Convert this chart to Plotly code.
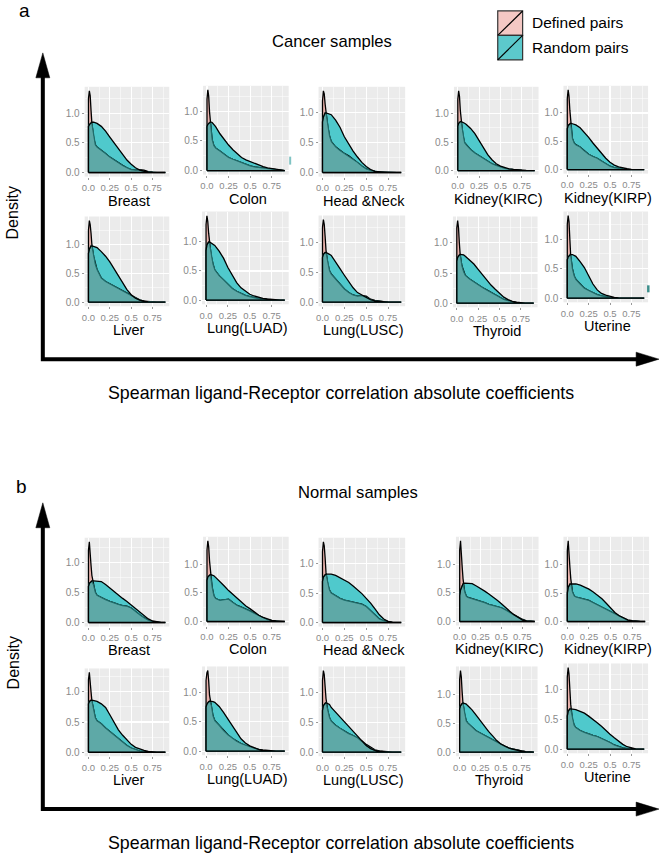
import plotly.graph_objects as go

W, H = 660, 855

# ---------------- data ----------------
x_grid = [0, 0.01, 0.02, 0.03, 0.04, 0.06, 0.08, 0.1, 0.15, 0.2, 0.25, 0.3,
          0.35, 0.4, 0.45, 0.5, 0.55, 0.6, 0.65, 0.7, 0.75, 0.8, 0.85, 0.9]

categories = ["Breast", "Colon", "Head &Neck", "Kidney(KIRC)", "Kidney(KIRP)",
              "Liver", "Lung(LUAD)", "Lung(LUSC)", "Thyroid", "Uterine"]
series_names = ["Defined pairs", "Random pairs"]
group_titles = ["Cancer samples", "Normal samples"]
panel_letters = ["a", "b"]
x_tick_vals = [0, 0.25, 0.5, 0.75]
x_tick_text = ["0.0", "0.25", "0.5", "0.75"]
y_tick_vals = [0, 0.5, 1.0]
y_tick_text = ["0.0", "0.5", "1.0"]
axis_x_title = "Spearman ligand-Receptor correlation absolute coefficients"
axis_y_title = "Density"

cancer_defined = [
    [1.25, 1.38, 1.3, 1.05, 0.83, 0.6, 0.47, 0.43, 0.38, 0.32, 0.26, 0.21, 0.16, 0.12, 0.08, 0.05, 0.04, 0.05, 0.04, 0.015, 0.005, 0, 0, 0],
    [1.2, 1.36, 1.25, 0.98, 0.8, 0.52, 0.42, 0.38, 0.33, 0.27, 0.22, 0.19, 0.16, 0.13, 0.1, 0.08, 0.06, 0.05, 0.04, 0.03, 0.02, 0.01, 0.005, 0],
    [1.2, 1.37, 1.32, 1.15, 1.0, 0.78, 0.62, 0.52, 0.43, 0.37, 0.32, 0.28, 0.22, 0.17, 0.11, 0.06, 0.035, 0.02, 0.01, 0.005, 0, 0, 0, 0],
    [1.25, 1.4, 1.3, 1.05, 0.85, 0.62, 0.49, 0.45, 0.37, 0.31, 0.26, 0.21, 0.16, 0.12, 0.09, 0.06, 0.04, 0.025, 0.015, 0.008, 0.004, 0, 0, 0],
    [1.25, 1.41, 1.3, 1.05, 0.82, 0.55, 0.47, 0.44, 0.4, 0.33, 0.27, 0.23, 0.2, 0.15, 0.1, 0.06, 0.035, 0.02, 0.01, 0.005, 0, 0, 0, 0],
    [1.25, 1.42, 1.35, 1.2, 1.0, 0.8, 0.66, 0.57, 0.42, 0.36, 0.32, 0.28, 0.24, 0.19, 0.15, 0.11, 0.07, 0.04, 0.02, 0.01, 0.005, 0, 0, 0],
    [1.3, 1.45, 1.35, 1.15, 0.97, 0.75, 0.62, 0.52, 0.42, 0.35, 0.27, 0.2, 0.15, 0.11, 0.08, 0.06, 0.04, 0.025, 0.015, 0.008, 0.004, 0, 0, 0],
    [1.25, 1.38, 1.3, 1.1, 0.87, 0.65, 0.53, 0.47, 0.38, 0.3, 0.22, 0.16, 0.12, 0.1, 0.11, 0.1, 0.05, 0.03, 0.015, 0.008, 0.004, 0, 0, 0],
    [1.25, 1.37, 1.25, 1.0, 0.8, 0.62, 0.52, 0.46, 0.4, 0.35, 0.3, 0.26, 0.22, 0.18, 0.13, 0.09, 0.06, 0.04, 0.02, 0.01, 0.005, 0, 0, 0],
    [1.25, 1.4, 1.3, 1.0, 0.72, 0.5, 0.38, 0.32, 0.24, 0.17, 0.13, 0.09, 0.06, 0.04, 0.02, 0.01, 0.005, 0, 0, 0, 0, 0, 0, 0],
]
cancer_random = [
    [0.78, 0.81, 0.83, 0.84, 0.85, 0.85, 0.84, 0.83, 0.78, 0.7, 0.6, 0.5, 0.4, 0.3, 0.21, 0.14, 0.08, 0.04, 0.02, 0.01, 0.005, 0, 0, 0],
    [0.74, 0.78, 0.8, 0.81, 0.82, 0.81, 0.78, 0.74, 0.62, 0.52, 0.43, 0.35, 0.28, 0.22, 0.18, 0.15, 0.12, 0.09, 0.065, 0.045, 0.03, 0.02, 0.01, 0],
    [0.85, 0.93, 0.97, 1.0, 1.0, 0.99, 0.98, 0.97, 0.88, 0.76, 0.6, 0.47, 0.36, 0.26, 0.17, 0.1, 0.05, 0.02, 0.01, 0.005, 0.002, 0, 0, 0],
    [0.78, 0.83, 0.85, 0.86, 0.86, 0.85, 0.83, 0.81, 0.74, 0.65, 0.53, 0.4, 0.28, 0.19, 0.12, 0.08, 0.05, 0.03, 0.02, 0.01, 0.005, 0.002, 0, 0],
    [0.72, 0.78, 0.8, 0.82, 0.82, 0.81, 0.8, 0.79, 0.74, 0.66, 0.57, 0.47, 0.38, 0.28, 0.2, 0.13, 0.08, 0.05, 0.03, 0.015, 0.005, 0, 0, 0],
    [0.85, 0.92, 0.96, 0.98, 0.98, 0.97, 0.96, 0.95, 0.88, 0.8, 0.7, 0.58, 0.45, 0.33, 0.22, 0.13, 0.07, 0.035, 0.015, 0.007, 0.003, 0, 0, 0],
    [0.85, 0.95, 0.99, 1.0, 1.0, 0.98, 0.96, 0.94, 0.84, 0.72, 0.56, 0.42, 0.3, 0.21, 0.15, 0.1, 0.07, 0.045, 0.03, 0.02, 0.01, 0.005, 0, 0],
    [0.75, 0.8, 0.82, 0.83, 0.83, 0.82, 0.8, 0.78, 0.68, 0.56, 0.45, 0.34, 0.24, 0.16, 0.12, 0.08, 0.04, 0.02, 0.01, 0.005, 0.002, 0, 0, 0],
    [0.7, 0.76, 0.79, 0.8, 0.81, 0.81, 0.8, 0.78, 0.72, 0.65, 0.56, 0.47, 0.38, 0.3, 0.23, 0.16, 0.1, 0.06, 0.03, 0.015, 0.005, 0, 0, 0],
    [0.65, 0.7, 0.72, 0.74, 0.74, 0.74, 0.73, 0.71, 0.62, 0.52, 0.38, 0.24, 0.14, 0.08, 0.05, 0.03, 0.015, 0.005, 0, 0, 0, 0, 0, 0],
]
normal_defined = [
    [1.2, 1.34, 1.2, 0.95, 0.78, 0.62, 0.5, 0.45, 0.41, 0.38, 0.35, 0.32, 0.3, 0.28, 0.27, 0.24, 0.18, 0.13, 0.08, 0.04, 0.015, 0.005, 0, 0],
    [1.25, 1.41, 1.3, 1.05, 0.85, 0.6, 0.45, 0.4, 0.37, 0.38, 0.39, 0.33, 0.28, 0.25, 0.22, 0.18, 0.14, 0.1, 0.06, 0.03, 0.015, 0.005, 0, 0],
    [1.2, 1.37, 1.3, 1.1, 0.85, 0.65, 0.55, 0.5, 0.45, 0.41, 0.38, 0.36, 0.34, 0.33, 0.31, 0.27, 0.2, 0.13, 0.06, 0.03, 0.01, 0, 0, 0],
    [1.25, 1.41, 1.25, 0.95, 0.75, 0.52, 0.44, 0.42, 0.4, 0.38, 0.36, 0.33, 0.3, 0.28, 0.26, 0.24, 0.2, 0.16, 0.12, 0.07, 0.04, 0.01, 0, 0],
    [1.25, 1.42, 1.25, 0.95, 0.75, 0.52, 0.45, 0.43, 0.41, 0.39, 0.37, 0.33, 0.29, 0.25, 0.22, 0.18, 0.13, 0.09, 0.05, 0.02, 0.01, 0, 0, 0],
    [1.2, 1.32, 1.2, 1.0, 0.85, 0.7, 0.57, 0.52, 0.47, 0.4, 0.34, 0.28, 0.22, 0.16, 0.11, 0.07, 0.04, 0.02, 0.01, 0, 0, 0, 0, 0],
    [1.2, 1.33, 1.37, 1.2, 0.95, 0.78, 0.6, 0.52, 0.44, 0.35, 0.28, 0.22, 0.17, 0.13, 0.1, 0.07, 0.05, 0.03, 0.01, 0.005, 0, 0, 0, 0],
    [1.2, 1.37, 1.3, 1.1, 0.9, 0.7, 0.58, 0.52, 0.45, 0.4, 0.35, 0.31, 0.28, 0.24, 0.19, 0.13, 0.08, 0.04, 0.02, 0.01, 0, 0, 0, 0],
    [1.25, 1.41, 1.3, 1.05, 0.85, 0.66, 0.54, 0.5, 0.43, 0.37, 0.33, 0.29, 0.25, 0.21, 0.17, 0.13, 0.1, 0.07, 0.05, 0.03, 0.02, 0.01, 0, 0],
    [1.2, 1.36, 1.25, 1.0, 0.75, 0.5, 0.4, 0.36, 0.31, 0.28, 0.25, 0.23, 0.21, 0.18, 0.14, 0.11, 0.07, 0.04, 0.02, 0.01, 0, 0, 0, 0],
]
normal_random = [
    [0.6, 0.65, 0.67, 0.68, 0.69, 0.69, 0.69, 0.69, 0.68, 0.63, 0.57, 0.52, 0.46, 0.4, 0.35, 0.29, 0.23, 0.17, 0.11, 0.06, 0.025, 0.01, 0, 0],
    [0.72, 0.78, 0.8, 0.81, 0.82, 0.81, 0.8, 0.77, 0.7, 0.62, 0.54, 0.47, 0.4, 0.33, 0.27, 0.22, 0.16, 0.11, 0.07, 0.04, 0.02, 0.01, 0, 0],
    [0.7, 0.77, 0.8, 0.81, 0.82, 0.82, 0.82, 0.82, 0.8, 0.76, 0.72, 0.68, 0.62, 0.56, 0.49, 0.41, 0.33, 0.23, 0.13, 0.06, 0.02, 0.005, 0, 0],
    [0.45, 0.55, 0.6, 0.64, 0.66, 0.67, 0.67, 0.67, 0.66, 0.62, 0.58, 0.53, 0.48, 0.43, 0.37, 0.31, 0.24, 0.18, 0.12, 0.07, 0.03, 0.01, 0, 0],
    [0.5, 0.6, 0.64, 0.66, 0.66, 0.66, 0.66, 0.66, 0.64, 0.61, 0.57, 0.52, 0.46, 0.4, 0.32, 0.24, 0.16, 0.1, 0.06, 0.03, 0.015, 0.005, 0, 0],
    [0.8, 0.84, 0.86, 0.86, 0.86, 0.85, 0.85, 0.84, 0.8, 0.74, 0.62, 0.5, 0.37, 0.28, 0.2, 0.13, 0.08, 0.05, 0.03, 0.015, 0.005, 0, 0, 0],
    [0.75, 0.8, 0.83, 0.84, 0.85, 0.85, 0.84, 0.83, 0.76, 0.66, 0.55, 0.43, 0.31, 0.21, 0.14, 0.09, 0.06, 0.03, 0.02, 0.01, 0, 0, 0, 0],
    [0.7, 0.78, 0.81, 0.82, 0.83, 0.82, 0.8, 0.75, 0.67, 0.58, 0.5, 0.42, 0.34, 0.27, 0.18, 0.11, 0.06, 0.03, 0.015, 0.005, 0, 0, 0, 0],
    [0.75, 0.8, 0.83, 0.84, 0.85, 0.84, 0.83, 0.8, 0.73, 0.64, 0.54, 0.45, 0.36, 0.28, 0.2, 0.14, 0.1, 0.07, 0.05, 0.03, 0.02, 0.01, 0, 0],
    [0.55, 0.63, 0.66, 0.67, 0.67, 0.67, 0.66, 0.66, 0.63, 0.6, 0.55, 0.5, 0.44, 0.38, 0.31, 0.25, 0.19, 0.13, 0.08, 0.04, 0.02, 0.005, 0, 0],
]

# ---------------- layout (pixel boxes of each small panel) ----------------
boxes = [
    [(82, 167, 87, 177), (201, 287, 86, 175), (317, 404, 87, 177), (453, 538, 87, 175), (563, 648, 86, 174),
     (82, 167, 217, 307), (200, 287, 212, 305), (317, 404, 216, 307), (452, 537, 217, 308), (563, 648, 212, 303)],
    [(82, 167, 539, 628), (201, 287, 538, 627), (317, 404, 539, 628), (455, 538, 538, 627), (563, 649, 538, 627),
     (82, 167, 670, 758), (200, 287, 668, 757), (317, 404, 668, 758), (455, 537, 668, 758), (563, 648, 665, 755)],
]
GROUP_DY = 451  # vertical offset of panel b decorations

FONT = "Liberation Sans, Arial, sans-serif"
PINK = "#E9B3AD"
TEAL = "#4FC9CC"
OVERLAP = "#5EA9A7"
DARK_TEAL = "#1F6E6C"
TICK_GRAY = "#8a8a8a"


def px(x):
    return x / W


def py(y):
    return 1 - y / H


fig = go.Figure()
layout = {}


def closed(vals):
    xs = [x_grid[0]] + list(x_grid) + [x_grid[-1], x_grid[0]]
    ys = [0] + list(vals) + [0, 0]
    return xs, ys


groups = [(cancer_defined, cancer_random), (normal_defined, normal_random)]
annotations = []
idx = 0
for g, (defs, rnds) in enumerate(groups):
    for k in range(10):
        idx += 1
        sfx = "" if idx == 1 else str(idx)
        xr, yr = "x" + sfx, "y" + sfx
        d = defs[k]
        r = rnds[k]
        ov = [min(a, b) for a, b in zip(d, r)]
        xs, ys_r = closed(r)
        _, ys_d = closed(d)
        _, ys_o = closed(ov)
        fig.add_trace(go.Scatter(x=xs, y=ys_r, xaxis=xr, yaxis=yr, mode="lines", fill="toself",
                                 fillcolor=TEAL, line=dict(width=0, color=TEAL), hoverinfo="skip",
                                 name=series_names[1], showlegend=False))
        fig.add_trace(go.Scatter(x=xs, y=ys_d, xaxis=xr, yaxis=yr, mode="lines", fill="toself",
                                 fillcolor=PINK, line=dict(width=1.3, color="black"), hoverinfo="skip",
                                 name=series_names[0], showlegend=False))
        fig.add_trace(go.Scatter(x=xs, y=ys_o, xaxis=xr, yaxis=yr, mode="lines", fill="toself",
                                 fillcolor=OVERLAP, line=dict(width=1.2, color=DARK_TEAL), hoverinfo="skip",
                                 showlegend=False))
        fig.add_trace(go.Scatter(x=xs, y=ys_r, xaxis=xr, yaxis=yr, mode="lines",
                                 line=dict(width=1.3, color="black"), hoverinfo="skip",
                                 showlegend=False))

        x0, x1, y0, y1 = boxes[g][k]
        M = max(max(d), max(r))
        xmax = x_grid[-1]
        layout["xaxis" + sfx] = dict(
            domain=[px(x0), px(x1)], anchor=yr, range=[-0.05 * xmax, 1.05 * xmax],
            tickmode="array", tickvals=x_tick_vals, ticktext=x_tick_text,
            ticks="outside", ticklen=2, tickwidth=1, tickcolor="#999999",
            tickfont=dict(size=9.5, color=TICK_GRAY, family=FONT),
            showgrid=True, gridcolor="white", gridwidth=1.1,
            minor=dict(tickvals=[0.125, 0.375, 0.625, 0.875], showgrid=True,
                       gridcolor="white", gridwidth=0.5, ticks=""),
            zeroline=False, showline=False, fixedrange=True)
        layout["yaxis" + sfx] = dict(
            domain=[py(y1), py(y0)], anchor=xr, range=[-0.05 * M, 1.05 * M],
            tickmode="array", tickvals=y_tick_vals, ticktext=y_tick_text,
            ticks="outside", ticklen=2, tickwidth=1, tickcolor="#999999",
            tickfont=dict(size=10, color=TICK_GRAY, family=FONT),
            showgrid=True, gridcolor="white", gridwidth=1.1,
            minor=dict(tickvals=[0.25, 0.75, 1.25], showgrid=True,
                       gridcolor="white", gridwidth=0.5, ticks=""),
            zeroline=False, showline=False, fixedrange=True)
        annotations.append(dict(x=px((x0 + x1) / 2 + 2), y=py(y1 + 24), xref="paper", yref="paper",
                                text=categories[k], showarrow=False, xanchor="center", yanchor="middle",
                                font=dict(size=14.5, color="black", family=FONT)))

shapes = []
for g in range(2):
    dy = g * GROUP_DY
    # axes lines (L shape)
    shapes.append(dict(type="path", xref="paper", yref="paper",
                       path=f"M {px(40)},{py(76 + dy)} L {px(40)},{py(360 + dy)} L {px(638)},{py(360 + dy)}",
                       line=dict(color="black", width=4)))
    # arrow heads
    shapes.append(dict(type="path", xref="paper", yref="paper",
                       path=f"M {px(33)},{py(78 + dy)} L {px(47)},{py(78 + dy)} L {px(40)},{py(53 + dy)} Z",
                       fillcolor="black", line=dict(color="black", width=0.5)))
    shapes.append(dict(type="path", xref="paper", yref="paper",
                       path=f"M {px(636)},{py(353 + dy)} L {px(636)},{py(367 + dy)} L {px(659)},{py(360 + dy)} Z",
                       fillcolor="black", line=dict(color="black", width=0.5)))
    annotations.append(dict(x=px(10), y=py(213 + dy), xref="paper", yref="paper", text=axis_y_title,
                            textangle=-90, showarrow=False, xanchor="center", yanchor="middle",
                            font=dict(size=16, color="black", family=FONT)))
    annotations.append(dict(x=px(340), y=py(394 + dy), xref="paper", yref="paper", text=axis_x_title,
                            showarrow=False, xanchor="center", yanchor="middle",
                            font=dict(size=17.8, color="black", family=FONT)))

annotations.append(dict(x=px(330), y=py(42), xref="paper", yref="paper", text=group_titles[0],
                        showarrow=False, xanchor="center", yanchor="middle",
                        font=dict(size=16.6, color="black", family=FONT)))
annotations.append(dict(x=px(357), y=py(494), xref="paper", yref="paper", text=group_titles[1],
                        showarrow=False, xanchor="center", yanchor="middle",
                        font=dict(size=16.6, color="black", family=FONT)))
annotations.append(dict(x=px(22), y=py(11), xref="paper", yref="paper", text=panel_letters[0],
                        showarrow=False, xanchor="center", yanchor="middle",
                        font=dict(size=19, color="black", family=FONT)))
annotations.append(dict(x=px(19), y=py(488), xref="paper", yref="paper", text=panel_letters[1],
                        showarrow=False, xanchor="center", yanchor="middle",
                        font=dict(size=19, color="black", family=FONT)))

# legend keys (ggplot style: filled square with diagonal)
legend_fill = ["#F4C8C4", "#5CC9CC"]
for i in range(2):
    top = 11 + i * 24.5
    bot = top + 24.5
    shapes.append(dict(type="rect", xref="paper", yref="paper", x0=px(497), x1=px(522),
                       y0=py(bot), y1=py(top), fillcolor=legend_fill[i],
                       line=dict(color="#333333", width=1.2)))
    shapes.append(dict(type="line", xref="paper", yref="paper", x0=px(497), y0=py(bot),
                       x1=px(522), y1=py(top), line=dict(color="black", width=1.2)))
    annotations.append(dict(x=px(529), y=py(top + 12), xref="paper", yref="paper", text=series_names[i],
                            showarrow=False, xanchor="left", yanchor="middle",
                            font=dict(size=15.5, color="black", family=FONT)))

# small stray marks visible in the original figure
shapes.append(dict(type="rect", xref="paper", yref="paper", x0=px(287.5), x1=px(289.5),
                   y0=py(165), y1=py(157), fillcolor="#7fc3c3", line=dict(width=0)))
shapes.append(dict(type="rect", xref="paper", yref="paper", x0=px(647), x1=px(649.5),
                   y0=py(293), y1=py(286), fillcolor="#3d8f8c", line=dict(width=0)))

fig.update_layout(
    width=W, height=H, autosize=False,
    margin=dict(l=0, r=0, t=0, b=0),
    paper_bgcolor="white", plot_bgcolor="#EBEBEB",
    showlegend=False,
    font=dict(family=FONT),
    shapes=shapes, annotations=annotations,
    **layout,
)

fig.write_html(
    "out.html",
    config={"displayModeBar": False, "staticPlot": True},
    post_script=("document.body.style.margin='0';document.body.style.padding='0';"
                 "document.documentElement.style.overflow='hidden';"),
)
